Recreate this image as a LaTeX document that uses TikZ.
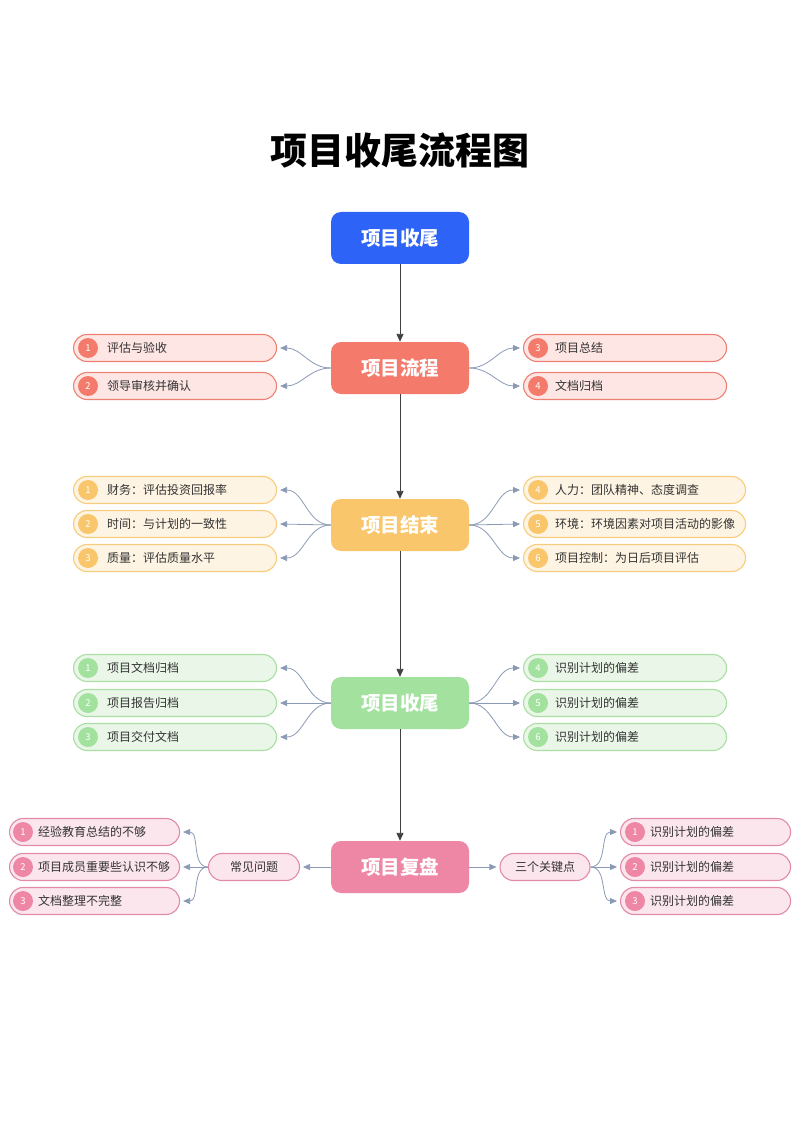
\documentclass[tikz,border=0pt]{standalone}
\usepackage{fontspec}
\setmainfont{Noto Sans CJK SC}
\usetikzlibrary{arrows.meta,calc}
\definecolor{cblue}{HTML}{2D63F6}
\definecolor{sdark}{HTML}{F47B6B}\definecolor{sfill}{HTML}{FDE6E3}\definecolor{sline}{HTML}{EE8172}
\definecolor{odark}{HTML}{FAC66B}\definecolor{ofill}{HTML}{FEF4E3}\definecolor{oline}{HTML}{F8CC7D}
\definecolor{gdark}{HTML}{A2E29E}\definecolor{gfill}{HTML}{EAF7E8}\definecolor{gline}{HTML}{A9DFA3}
\definecolor{pdark}{HTML}{EE87A6}\definecolor{pfill}{HTML}{FCE6EE}\definecolor{pline}{HTML}{E28BA8}
\definecolor{conn}{HTML}{8A9AB5}
\definecolor{txt}{HTML}{333333}
\tikzset{
  mainbox/.style={rectangle, rounded corners=10pt, minimum width=138pt, minimum height=52pt, text=white, font=\bfseries\fontsize{19.5}{22}\selectfont, inner sep=0pt},
  pill/.style={rectangle, rounded corners=13.5pt, minimum height=27pt, line width=1.1pt, inner sep=0pt},
  numc/.style={circle, minimum size=20pt, inner sep=0pt, text=white, font=\fontsize{9.5}{10}\selectfont},
  itemtext/.style={text=txt, font=\fontsize{12}{14}\selectfont, inner sep=0pt},
  mainarrow/.style={draw=black!75, line width=0.9pt, -{Triangle[length=8pt,width=7pt]}},
  br/.style={draw=conn, line width=0.8pt, -{Triangle[length=7pt,width=6pt]}},
}
% #1 name, #2 x left, #3 y, #4 width, #5 color prefix, #6 num, #7 text, #8 circle offset, #9 text offset
\newcommand{\pitem}[9]{%
  \node[pill, fill=#5fill, draw=#5line, minimum width=#4, anchor=west] (#1) at (#2,#3) {};
  \node[numc, fill=#5dark] (#1n) at ([xshift=#8]#1.west) {#6};
  \node[itemtext, anchor=west] (#1t) at ([xshift=#9]#1.west) {#7};
}
\begin{document}
\begin{tikzpicture}[x=1pt,y=-1pt]
\useasboundingbox (0,0) rectangle (800,1131);
\fill[white] (0,0) rectangle (800,1131);
\node[font=\bfseries\fontsize{37}{40}\selectfont] (title) at (400,150) {项目收尾流程图};

\node[mainbox, fill=cblue] (m1) at (400,238) {项目收尾};
\node[mainbox, fill=sdark] (m2) at (400,368) {项目流程};
\node[mainbox, fill=odark] (m3) at (400,525) {项目结束};
\node[mainbox, fill=gdark] (m4) at (400,703) {项目收尾};
\node[mainbox, fill=pdark] (m5) at (400,867) {项目复盘};

\draw[mainarrow] (m1.south) -- (m2.north);
\draw[mainarrow] (m2.south) -- (m3.north);
\draw[mainarrow] (m3.south) -- (m4.north);
\draw[mainarrow] (m4.south) -- (m5.north);

% row 1
\pitem{a1}{73}{348}{203pt}{s}{1}{评估与验收}{15}{34}
\pitem{a2}{73}{386}{203pt}{s}{2}{领导审核并确认}{15}{34}
\pitem{a3}{523}{348}{203pt}{s}{3}{项目总结}{15}{32}
\pitem{a4}{523}{386}{203pt}{s}{4}{文档归档}{15}{32}
\draw[br] (m2.west) to[out=180,in=0] ([xshift=3]a1.east);
\draw[br] (m2.west) to[out=180,in=0] ([xshift=3]a2.east);
\draw[br] (m2.east) to[out=0,in=180] ([xshift=-3]a3.west);
\draw[br] (m2.east) to[out=0,in=180] ([xshift=-3]a4.west);

% row 2
\pitem{b1}{73}{490}{203pt}{o}{1}{财务：评估投资回报率}{15}{34}
\pitem{b2}{73}{524}{203pt}{o}{2}{时间：与计划的一致性}{15}{34}
\pitem{b3}{73}{558}{203pt}{o}{3}{质量：评估质量水平}{15}{34}
\pitem{b4}{523}{490}{222pt}{o}{4}{人力：团队精神、态度调查}{15}{32}
\pitem{b5}{523}{524}{222pt}{o}{5}{环境：环境因素对项目活动的影像}{15}{32}
\pitem{b6}{523}{558}{222pt}{o}{6}{项目控制：为日后项目评估}{15}{32}
\draw[br] (m3.west) to[out=180,in=0] ([xshift=3]b1.east);
\draw[br] (m3.west) -- ([xshift=3]b2.east);
\draw[br] (m3.west) to[out=180,in=0] ([xshift=3]b3.east);
\draw[br] (m3.east) to[out=0,in=180] ([xshift=-3]b4.west);
\draw[br] (m3.east) -- ([xshift=-3]b5.west);
\draw[br] (m3.east) to[out=0,in=180] ([xshift=-3]b6.west);

% row 3
\pitem{c1}{73}{668}{203pt}{g}{1}{项目文档归档}{15}{34}
\pitem{c2}{73}{703}{203pt}{g}{2}{项目报告归档}{15}{34}
\pitem{c3}{73}{737}{203pt}{g}{3}{项目交付文档}{15}{34}
\pitem{c4}{523}{668}{203pt}{g}{4}{识别计划的偏差}{15}{32}
\pitem{c5}{523}{703}{203pt}{g}{5}{识别计划的偏差}{15}{32}
\pitem{c6}{523}{737}{203pt}{g}{6}{识别计划的偏差}{15}{32}
\draw[br] (m4.west) to[out=180,in=0] ([xshift=3]c1.east);
\draw[br] (m4.west) -- ([xshift=3]c2.east);
\draw[br] (m4.west) to[out=180,in=0] ([xshift=3]c3.east);
\draw[br] (m4.east) to[out=0,in=180] ([xshift=-3]c4.west);
\draw[br] (m4.east) -- ([xshift=-3]c5.west);
\draw[br] (m4.east) to[out=0,in=180] ([xshift=-3]c6.west);

% row 4
\node[pill, fill=pfill, draw=pline, minimum width=91pt] (q) at (254,867) {};
\node[itemtext] (qt) at (q.center) {常见问题};
\node[pill, fill=pfill, draw=pline, minimum width=90pt] (k) at (545,867) {};
\node[itemtext] (kt) at (k.center) {三个关键点};
\pitem{d1}{9}{832}{170pt}{p}{1}{经验教育总结的不够}{14}{29}
\pitem{d2}{9}{867}{170pt}{p}{2}{项目成员重要些认识不够}{14}{29}
\pitem{d3}{9}{901}{170pt}{p}{3}{文档整理不完整}{14}{29}
\pitem{d4}{620}{832}{170pt}{p}{1}{识别计划的偏差}{15}{30}
\pitem{d5}{620}{867}{170pt}{p}{2}{识别计划的偏差}{15}{30}
\pitem{d6}{620}{901}{170pt}{p}{3}{识别计划的偏差}{15}{30}
\draw[br] (m5.west) -- ([xshift=3]q.east);
\draw[br] (m5.east) -- ([xshift=-3]k.west);
\draw[br] (q.west) to[out=180,in=0] ([xshift=3]d1.east);
\draw[br] (q.west) -- ([xshift=3]d2.east);
\draw[br] (q.west) to[out=180,in=0] ([xshift=3]d3.east);
\draw[br] (k.east) to[out=0,in=180] ([xshift=-3]d4.west);
\draw[br] (k.east) -- ([xshift=-3]d5.west);
\draw[br] (k.east) to[out=0,in=180] ([xshift=-3]d6.west);
\end{tikzpicture}
\end{document}
